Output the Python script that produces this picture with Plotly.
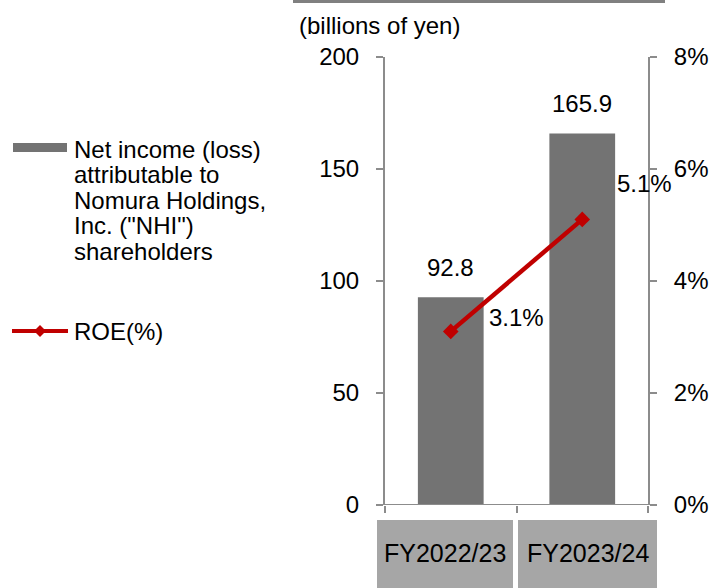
"""Net income and ROE chart (Nomura Holdings)"""

import plotly.graph_objects as go

# データ
categories = ["FY2022/23", "FY2023/24"]
net_income = [92.8, 165.9]
roe_pct = [3.1, 5.1]
income_ticks = [0, 50, 100, 150, 200]
roe_ticks = [0, 2, 4, 6, 8]
legend_lines = [
    "Net income (loss)",
    "attributable to",
    "Nomura Holdings,",
    'Inc. ("NHI")',
    "shareholders",
]

FONT = "Liberation Sans, Arial, sans-serif"
FS = 24
GRAY_BAR = "#737373"
GRAY_BOX = "#A6A6A6"
AXIS = "#8C8C8C"
RED = "#C00000"

# 描画領域 (px) -> paper座標の変換
L, R, T, B = 385, 648, 57, 505


def px(x):
    return (x - L) / (R - L)


def py(y):
    return (B - y) / (B - T)


def label(x, y, text, xanchor="center", size=FS):
    return dict(x=px(x), y=py(y), xref="paper", yref="paper", text=text, showarrow=False,
                xanchor=xanchor, yanchor="middle", font=dict(size=size))


fig = go.Figure()

fig.add_trace(
    go.Bar(
        x=categories,
        y=net_income,
        width=0.5,
        marker=dict(color=GRAY_BAR, line=dict(width=0)),
        showlegend=False,
        hoverinfo="skip",
    )
)

fig.add_trace(
    go.Scatter(
        x=categories,
        y=roe_pct,
        yaxis="y2",
        mode="lines+markers",
        line=dict(color=RED, width=4.5),
        marker=dict(symbol="diamond", size=12, color=RED),
        showlegend=False,
        hoverinfo="skip",
    )
)

annotations = []
# 棒グラフの値ラベル
for c, v in zip(categories, net_income):
    annotations.append(
        dict(x=c, y=v, xref="x", yref="y", text=f"{v:.1f}", showarrow=False,
             yanchor="middle", yshift=30, font=dict(size=FS))
    )
# ROEラベル
for c, v, xs, ys in zip(categories, roe_pct, [36, 33], [14, 36]):
    annotations.append(
        dict(x=c, y=v, xref="x", yref="y2", text=f"{v:.1f}%", showarrow=False,
             xanchor="left", yanchor="middle", xshift=xs, yshift=ys, font=dict(size=FS))
    )
# カテゴリラベル (灰色ボックス)
box_edges = [(377, 513), (518, 657)]
shapes = []
for c, (x0, x1) in zip(categories, box_edges):
    shapes.append(
        dict(type="rect", xref="paper", yref="paper", x0=px(x0), x1=px(x1),
             y0=py(588), y1=py(520), fillcolor=GRAY_BOX, line=dict(width=0), layer="below")
    )
    annotations.append(label((x0 + x1) / 2, 553, c, size=25))

# 単位
annotations.append(label(297, 25, "(billions of yen)", xanchor="left"))

# 凡例 (手動)
for i, t in enumerate(legend_lines):
    annotations.append(label(72, 149 + i * 25.5, t, xanchor="left"))
annotations.append(label(72, 331, "ROE(%)", xanchor="left"))

shapes += [
    dict(type="rect", xref="paper", yref="paper", x0=px(13), x1=px(67), y0=py(152), y1=py(143),
         fillcolor=GRAY_BAR, line=dict(width=0)),
    dict(type="line", xref="paper", yref="paper", x0=px(12), x1=px(68), y0=py(331), y1=py(331),
         line=dict(color=RED, width=4)),
    dict(type="path", xref="paper", yref="paper",
         path=f"M {px(34)} {py(331)} L {px(40)} {py(325)} L {px(46)} {py(331)} L {px(40)} {py(337)} Z",
         fillcolor=RED, line=dict(width=0)),
    # 上部の灰色ライン
    dict(type="rect", xref="paper", yref="paper", x0=px(293), x1=px(665), y0=py(3), y1=py(0),
         fillcolor="#808080", line=dict(width=0)),
    # 横軸ライン
    dict(type="line", xref="paper", yref="y", x0=px(377), x1=px(657), y0=0, y1=0,
         line=dict(color=AXIS, width=2)),
]

axis_style = dict(
    ticks="outside",
    ticklen=7,
    tickwidth=2,
    tickcolor=AXIS,
    showgrid=False,
    zeroline=False,
    automargin=False,
)

fig.update_layout(
    width=710,
    height=588,
    margin=dict(l=L, r=710 - R, t=T, b=588 - B),
    plot_bgcolor="white",
    paper_bgcolor="white",
    font=dict(family=FONT, size=FS, color="#000000"),
    showlegend=False,
    xaxis=dict(
        type="category",
        categoryarray=categories,
        range=[-0.5, 1.5],
        showticklabels=False,
        tickson="boundaries",
        showline=False,
        **axis_style,
    ),
    yaxis=dict(
        range=[0, 200],
        tickvals=income_ticks,
        showline=True,
        linecolor=AXIS,
        linewidth=2,
        ticklabelstandoff=12,
        **axis_style,
    ),
    yaxis2=dict(
        range=[0, 8],
        tickvals=roe_ticks,
        ticktext=[f"{v}%" for v in roe_ticks],
        overlaying="y",
        side="right",
        showline=True,
        linecolor=AXIS,
        linewidth=2,
        ticklabelstandoff=12,
        **axis_style,
    ),
    annotations=annotations,
    shapes=shapes,
)

# ページ本体の余白を消す
fig.write_html(
    "out.html",
    config={"displayModeBar": False},
    post_script="document.body.style.margin='0';",
)
